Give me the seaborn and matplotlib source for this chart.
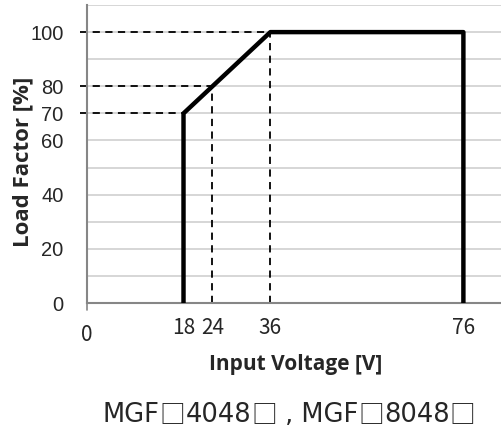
import numpy as np
import pandas as pd
import matplotlib
matplotlib.use('Agg')
import matplotlib.pyplot as plt
import seaborn as sns

# derating curve
volt = [18, 18, 36, 76, 76]
load = [0, 70, 100, 100, 0]

# dashed guide points (voltage, load)
guide_v = [18, 24, 36]
guide_l = [70, 80, 100]

yticks = [0, 20, 40, 60, 70, 80, 100]
xticks = [18, 24, 36, 76]
# model caption, split so the boxes can use a full-width font
caption_parts = ['MGF', '\u25a1', '4048', '\u25a1', ' , MGF', '\u25a1', '8048', '\u25a1']

sns.set_style('white')
plt.rcParams['font.family'] = ['Liberation Sans', 'DejaVu Sans']

df = pd.DataFrame({'volt': volt, 'load': load})

fig = plt.figure(figsize=(5.02, 4.29), dpi=100)
ax = fig.add_axes([0.1733, 0.2937, 0.8267, 0.6946])

xmin, xmax = -2, 84
ax.set_xlim(xmin, xmax)
ax.set_ylim(0, 110)

# light grid every 10
for g in range(10, 111, 10):
    ax.axhline(g, color='#d0d0d0', lw=1.2, zorder=0)

# dashed guides
for v, l in zip(guide_v, guide_l):
    ax.plot([xmin - 1.5, v], [l, l], color='black', ls=(0, (4, 3)), lw=1.3,
            clip_on=False, zorder=2)
for v, l in zip(guide_v[1:], guide_l[1:]):
    ax.plot([v, v], [0, l], color='black', ls=(0, (4, 3)), lw=1.3, zorder=2)

sns.lineplot(data=df, x='volt', y='load', sort=False, estimator=None,
             color='black', lw=3.2, ax=ax, zorder=3)

for s in ['top', 'right']:
    ax.spines[s].set_visible(False)
for s in ['left', 'bottom']:
    ax.spines[s].set_color('#868686')
    ax.spines[s].set_linewidth(1.5)

ax.set_yticks(yticks)
ax.set_yticklabels([str(t) for t in yticks], fontsize=14.5)
ax.tick_params(axis='y', length=6, width=1.2, color='#868686', pad=11)

ax.set_xticks(xticks)
ax.set_xticklabels([str(t) for t in xticks], fontsize=15,
                   family=['Noto Sans CJK JP', 'DejaVu Sans'])
ax.tick_params(axis='x', length=0, pad=10)
# origin label and tick at axis corner
ax.plot([xmin, xmin], [0, -2.5], color='#868686', lw=1.2, clip_on=False)
ax.text(0.0, -0.07, '0', transform=ax.transAxes, ha='center', va='top',
        fontsize=15, family=['Noto Sans CJK JP', 'DejaVu Sans'])

ax.set_xlabel('Input Voltage [V]', fontsize=15, fontweight='bold',
              family=['Open Sans', 'DejaVu Sans'], va='top')
ax.xaxis.set_label_coords(0.502, -0.17)
ax.set_ylabel('Load Factor [%]', fontsize=16, fontweight='bold',
              family=['Open Sans', 'DejaVu Sans'])
ax.yaxis.set_label_coords(-0.13, 0.475)

# caption pieces, laid out left to right on one baseline
x0, base = 0.205, 0.016
pieces = []
for part in caption_parts:
    if part == '\u25a1':
        fam = ['Noto Sans CJK JP', 'DejaVu Sans']
    else:
        fam = ['DejaVu Sans']
    pieces.append(fig.text(x0, base, part, ha='left', va='baseline',
                           fontsize=18.5, family=fam))

fig.canvas.draw()
r = fig.canvas.get_renderer()
xpix = x0 * fig.bbox.width
for t in pieces:
    t.set_x(xpix / fig.bbox.width)
    xpix += t.get_window_extent(r).width

fig.savefig('out.png', dpi=100)
